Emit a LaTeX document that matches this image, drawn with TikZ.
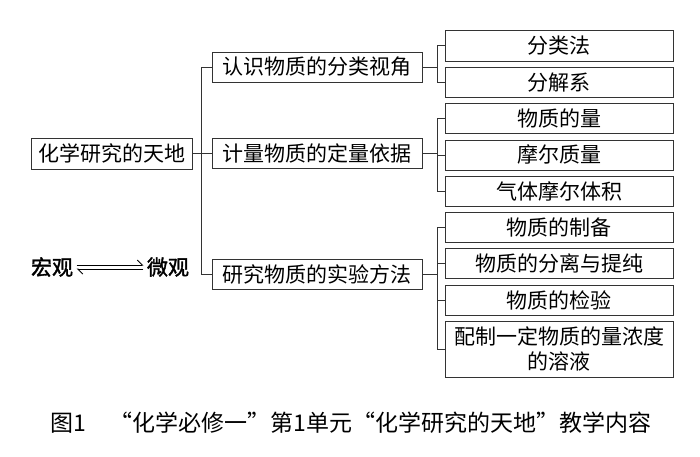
\documentclass[tikz,border=0pt]{standalone}
\usepackage{fontspec}
\setmainfont{Noto Sans CJK SC}
\newfontfamily\thickfont{Noto Sans CJK SC}[FakeBold=1.6]
\usetikzlibrary{positioning,arrows.meta}

\tikzset{
  box/.style={draw=black!80, line width=0.8pt, minimum height=30pt, inner sep=0pt,
    font=\fontsize{21}{25}\selectfont},
  topic/.style={box, minimum width=210pt},
  leaf/.style={box, minimum width=228pt},
  link/.style={draw=black!80, line width=0.8pt},
}

\begin{document}
\begin{tikzpicture}[x=1pt,y=-1pt]
  \useasboundingbox (0,0) rectangle (700,456);
  % main topic and its three parts
  \node (root) [box, minimum width=161pt, minimum height=31pt] at (111.5,153.5) {化学研究的天地};
  \node (t1) [topic] at (317,67) {认识物质的分类视角};
  \node (t2) [topic] at (317,153.5) {计量物质的定量依据};
  \node (t3) [topic] at (317,274.5) {研究物质的实验方法};
  % leaves
  \node (l1) [leaf, minimum height=31pt] at (559,45.5) {分类法};
  \node (l2) [leaf, below=5.5pt of l1] {分解系};
  \node (l3) [leaf, below=5.5pt of l2] {物质的量};
  \node (l4) [leaf, below=5.5pt of l3] {摩尔质量};
  \node (l5) [leaf, below=5.5pt of l4] {气体摩尔体积};
  \node (l6) [leaf, below=5.5pt of l5] {物质的制备};
  \node (l7) [leaf, below=5.5pt of l6] {物质的分离与提纯};
  \node (l8) [leaf, below=5.5pt of l7] {物质的检验};
  \node (l9) [leaf, below=5.5pt of l8, minimum height=56pt, align=center]
    {配制一定物质的量浓度\\的溶液};
  % brackets
  \draw[link] (root.east) -- (t2.west);
  \draw[link] (t1.west) -- ++(-10,0) |- (t3.west);
  \foreach \p/\c in {t1/l1, t1/l2, t2/l3, t2/l4, t2/l5, t3/l6, t3/l7, t3/l8, t3/l9}
    \draw[link] (\p.east) -- ++(15,0) |- (\c.west);
  % macro <-> micro
  \node (macro) [font=\fontsize{21}{25}\thickfont] at (52,267) {宏观};
  \node (micro) [font=\fontsize{21}{25}\thickfont] at (168,267) {微观};
  \draw[line width=1pt, -{Straight Barb[left, length=5pt]}]
    ([yshift=2pt]macro.east) -- ([yshift=2pt]micro.west);
  \draw[line width=1pt, -{Straight Barb[left, length=5pt]}]
    ([yshift=-2pt]micro.west) -- ([yshift=-2pt]macro.east);
  % caption
  \node (caption) [font=\fontsize{23}{27}\selectfont] at (351,423)
    {图1\quad “化学必修一”第1单元“化学研究的天地”教学内容};
\end{tikzpicture}
\end{document}
